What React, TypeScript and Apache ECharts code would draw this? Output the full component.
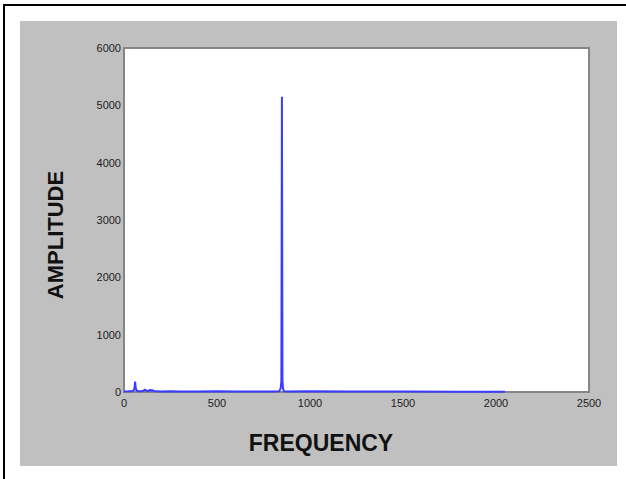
import React, { useEffect, useRef } from "react";
import * as echarts from "echarts";

const frequency = [0, 20, 40, 52, 56, 60, 63, 67, 75, 90, 105, 112, 118, 124, 132, 140, 146, 152, 165, 200, 250, 300, 400, 500, 600, 700, 800, 835, 842, 846, 849, 850, 852, 855, 860, 880, 1000, 1200, 1500, 1800, 2048];
const amplitude = [10, 12, 15, 25, 60, 180, 70, 30, 18, 15, 20, 45, 25, 20, 18, 40, 22, 30, 12, 10, 12, 10, 8, 12, 8, 8, 10, 15, 60, 180, 5150, 5150, 200, 60, 15, 10, 12, 8, 8, 6, 5];
const xTicks = [0, 500, 1000, 1500, 2000, 2500];
const yTicks = [0, 1000, 2000, 3000, 4000, 5000, 6000];

export default function App() {
  const ref = useRef<HTMLDivElement>(null);
  useEffect(() => {
    document.body.style.margin = "0";
    const chart = echarts.init(ref.current!, undefined, { renderer: "svg" });
    const data = frequency.map((f, i) => [f, amplitude[i]]);
    const labelFont = "'Liberation Sans', Arial, sans-serif";
    chart.setOption({
      animation: false,
      backgroundColor: "#ffffff",
      graphic: [
        { type: "rect", shape: { x: 20, y: 21, width: 597, height: 445 }, style: { fill: "#c0c0c0" }, z: -10 },
        { type: "line", shape: { x1: 3, y1: 5, x2: 626, y2: 5 }, style: { stroke: "#000", lineWidth: 2 } },
        { type: "line", shape: { x1: 4, y1: 4, x2: 4, y2: 479 }, style: { stroke: "#000", lineWidth: 2 } },
        {
          type: "text", x: 321, y: 443,
          style: { text: "FREQUENCY", font: "bold 23px 'Liberation Sans', Arial, sans-serif", fill: "#111", align: "center", verticalAlign: "middle" },
        },
        {
          type: "text", x: 55, y: 235, rotation: Math.PI / 2,
          style: { text: "AMPLITUDE", font: "bold 22px 'Liberation Sans', Arial, sans-serif", fill: "#111", align: "center", verticalAlign: "middle" },
        },
      ],
      grid: {
        left: 124, right: 37, top: 48, bottom: 87,
        show: true, backgroundColor: "#ffffff", borderColor: "#868686", borderWidth: 2, z: 1,
      },
      xAxis: {
        type: "value", min: 0, max: 2500, interval: 500,
        axisLine: { show: false },
        axisTick: { show: true, inside: true, length: 4, lineStyle: { color: "#868686" } },
        splitLine: { show: false },
        axisLabel: { fontSize: 11, color: "#222", margin: 5, fontFamily: labelFont, customValues: xTicks, formatter: (v: number) => String(v) },
      },
      yAxis: {
        type: "value", min: 0, max: 6000, interval: 1000,
        axisLine: { show: false },
        axisTick: { show: true, inside: true, length: 4, lineStyle: { color: "#868686" } },
        splitLine: { show: false },
        axisLabel: { fontSize: 11, color: "#222", margin: 3, fontFamily: labelFont, customValues: yTicks, formatter: (v: number) => String(v) },
      },
      series: [
        {
          type: "line", data, showSymbol: false, symbol: "none",
          lineStyle: { color: "#3c3cff", width: 2 }, z: 5,
        },
      ],
    });
    return () => chart.dispose();
  }, []);
  return <div ref={ref} style={{ width: 626, height: 479 }} />;
}
